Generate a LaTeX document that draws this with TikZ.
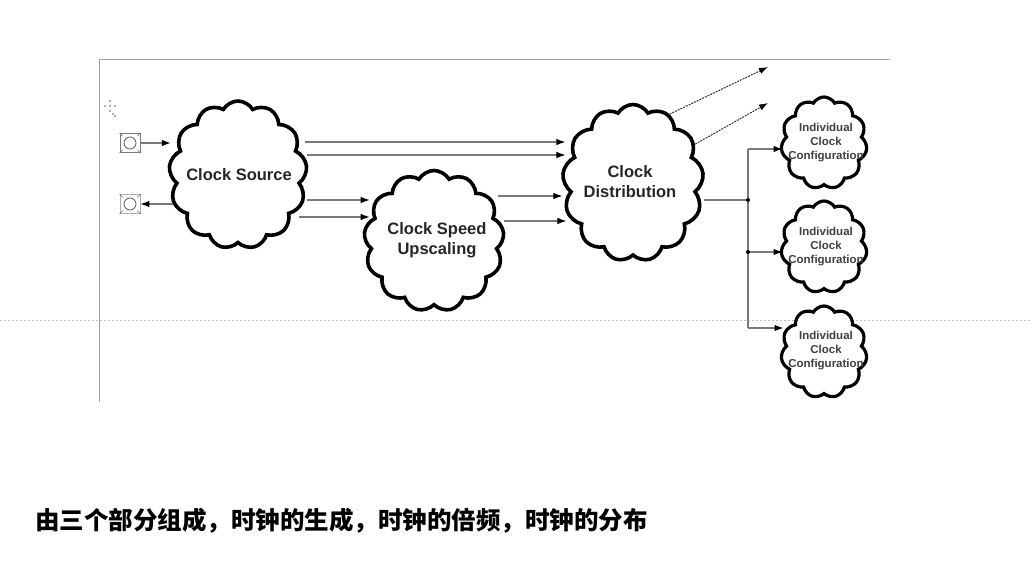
\documentclass[tikz,border=0pt]{standalone}
\usepackage{fontspec}
\setmainfont{Liberation Sans}
\newfontfamily\cjk{Noto Sans CJK SC}
\usetikzlibrary{shapes.symbols,arrows.meta,calc}
\definecolor{linegray}{HTML}{7A7A7A}
\definecolor{framegray}{HTML}{A0A0A0}
\tikzset{
  bigcloud/.style={cloud, cloud puffs=13, cloud puff arc=120, cloud ignores aspect,
    draw=black, line width=3.6pt, fill=white, inner sep=0pt},
  smallcloud/.style={cloud, cloud puffs=11, cloud puff arc=120, cloud ignores aspect,
    draw=black, line width=3.2pt, fill=white, inner sep=0pt,
    minimum width=86pt, minimum height=92pt},
  bigtext/.style={font=\bfseries\fontsize{16.5}{20}\selectfont, align=center, text=black!85, inner sep=0pt},
  smalltext/.style={font=\bfseries\fontsize{11.5}{14}\selectfont, align=center, text=black!75, inner sep=0pt},
  conn/.style={draw=linegray, line width=1.1pt, -{Latex[length=9pt,width=6.5pt,black]}},
  plainconn/.style={draw=linegray, line width=1.1pt},
  dotconn/.style={draw=black!80, line width=1pt, dash pattern=on 2pt off 1pt, -{Latex[length=9pt,width=6.5pt,black]}},
  portbox/.style={draw=linegray, line width=0.8pt, minimum width=20pt, minimum height=19pt, inner sep=0pt, fill=white},
  jdot/.style={circle, fill=black, inner sep=0pt, minimum size=4pt}
}
\begin{document}
\begin{tikzpicture}[x=1pt,y=-1pt]
\useasboundingbox (0,0) rectangle (1031,586);
% frame and guide line
\draw[framegray, line width=1pt] (99,402) -- (99,60) -- (890,60);
\draw[black!25, line width=0.8pt, dash pattern=on 2pt off 2pt] (0,320) -- (1031,320);
% small move icon
\foreach \dx/\dy in {0/-5,0/5,-5/0,5/0,0/0,3/8,5/10} {\fill[black!60] (110+\dx,106+\dy) circle (0.9pt);}
% clouds
\node[bigcloud, minimum width=138pt, minimum height=148pt] (cs) at (238,175) {};
\node[bigcloud, minimum width=140pt, minimum height=141pt] (cu) at (434,241) {};
\node[bigcloud, minimum width=141pt, minimum height=157pt] (cd) at (633,183) {};
\node[smallcloud] (ic1) at (824,143) {};
\node[smallcloud] (ic2) at (824,247) {};
\node[smallcloud] (ic3) at (824,352) {};
\node[bigtext] (tcs) at (239,175) {Clock Source};
\node[bigtext] (tcu) at (437,240) {Clock Speed\\Upscaling};
\node[bigtext] (tcd) at (630,182) {Clock\\Distribution};
\node[smalltext] (t1) at (826,143) {Individual\\Clock\\Configuration};
\node[smalltext] (t2) at (826,247) {Individual\\Clock\\Configuration};
\node[smalltext] (t3) at (826,351) {Individual\\Clock\\Configuration};
% ports
\node[portbox] (p1) at (130,143) {};
\node[portbox, draw=linegray!60] (p2) at (130,204) {};
\draw[black!70, line width=0.7pt] (p1.center) circle (6pt);
\draw[black!70, line width=0.7pt] (p2.center) circle (6pt);
\foreach \p in {p1,p2} {
  \draw[black!60, line width=0.6pt] (\p.north west) -- ++(3,3) (\p.north east) -- ++(-3,3)
    (\p.south west) -- ++(3,-3) (\p.south east) -- ++(-3,-3);
}
% connectors
\draw[conn] (p1.east) -- ($(cs.west |- p1.east)+(2,0)$);
\draw[conn] ($(cs.west |- p2.east)+(4,0)$) -- (p2.east);
\draw[conn] ($(cs.east |- 0,142)+(-2,0)$) -- ($(cd.west |- 0,142)+(3,0)$);
\draw[conn] ($(cs.east |- 0,155)$) -- ($(cd.west |- 0,155)+(3,0)$);
\draw[conn] ($(cs.east |- 0,200)$) -- ($(cu.west |- 0,200)+(6,0)$);
\draw[conn] ($(cs.east |- 0,217)+(-8,0)$) -- ($(cu.west |- 0,217)+(6,0)$);
\draw[conn] ($(cu.east |- 0,196)+(-6,0)$) -- ($(cd.west |- 0,196)+(0,0)$);
\draw[conn] ($(cu.east |- 0,221)$) -- ($(cd.west |- 0,221)+(4,0)$);
\coordinate (o1) at (768,67);
\coordinate (o2) at (768,103);
\draw[dotconn] (cd.62) -- (o1);
\draw[dotconn] (cd.32) -- (o2);
\coordinate (j1) at (748,200);
\coordinate (j2) at (748,252);
\coordinate (ctop) at (748,149);
\coordinate (cbot) at (748,328);
\draw[plainconn] (cd.east |- j1) -- (j1);
\draw[plainconn] (ctop) -- (cbot);
\draw[conn] (ctop) -- ($(ic1.west |- ctop)+(2,0)$);
\draw[conn] (j2) -- ($(ic2.west |- j2)+(2,0)$);
\draw[conn] (cbot) -- ($(ic3.west |- cbot)+(3,0)$);
\node[jdot] (d1) at (j1) {};
\node[jdot] (d2) at (j2) {};
% caption
\node[anchor=west, inner sep=0pt, font=\cjk\bfseries\fontsize{24.5}{28}\selectfont] (cap) at (35,521) {由三个部分组成，时钟的生成，时钟的倍频，时钟的分布};
\end{tikzpicture}
\end{document}
